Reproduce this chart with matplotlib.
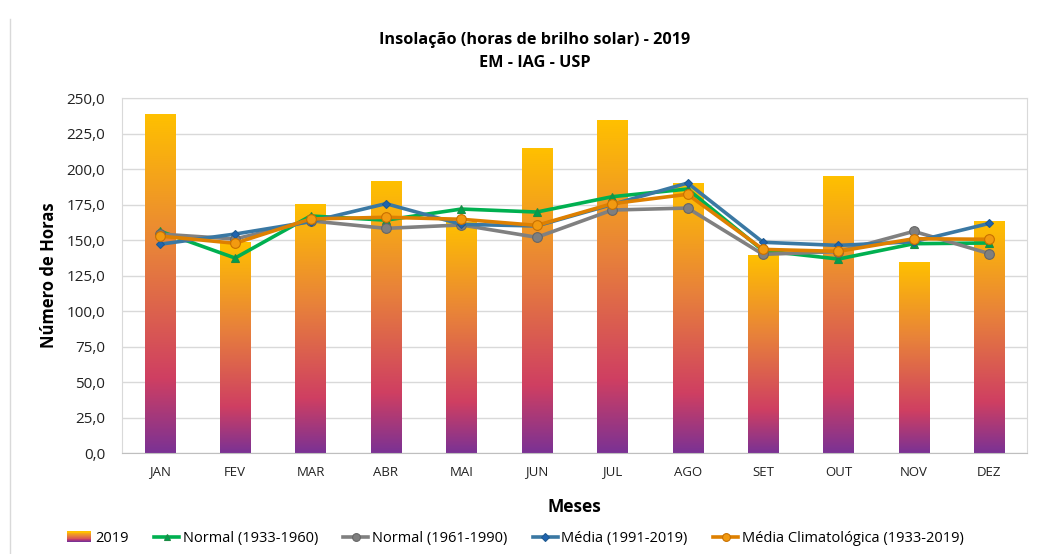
import matplotlib
matplotlib.use("Agg")
import matplotlib.pyplot as plt
import numpy as np
from matplotlib.colors import LinearSegmentedColormap
from matplotlib.legend_handler import HandlerBase
from matplotlib.patches import Rectangle
from matplotlib.lines import Line2D

months = ["JAN", "FEV", "MAR", "ABR", "MAI", "JUN", "JUL", "AGO", "SET", "OUT", "NOV", "DEZ"]
ins_2019 = [238.7, 148.0, 175.3, 191.5, 162.0, 214.5, 234.5, 190.0, 139.2, 194.4, 134.0, 162.7]
normal_1933_1960 = [156.3, 137.3, 166.9, 164.0, 171.8, 169.7, 180.5, 185.9, 142.5, 136.6, 147.4, 147.9]
normal_1961_1990 = [154.2, 150.7, 163.5, 158.2, 160.6, 151.9, 171.1, 172.5, 139.9, 141.8, 156.1, 140.4]
media_1991_2019 = [147.0, 154.2, 162.9, 175.6, 161.0, 159.9, 175.0, 190.1, 148.4, 146.2, 148.8, 161.7]
media_clim = [152.8, 147.7, 164.8, 166.0, 164.6, 160.3, 175.6, 182.2, 143.4, 142.0, 150.9, 150.5]
yticks = [0, 25, 50, 75, 100, 125, 150, 175, 200, 225, 250]

FONT = ["Open Sans", "DejaVu Sans"]
plt.rcParams["font.family"] = FONT

grad_cmap = LinearSegmentedColormap.from_list(
    "g", [(0.0, "#7B3294"), (0.22, "#CF3F62"), (0.6, "#E8823A"), (1.0, "#FFC000")])

fig = plt.figure(figsize=(10.38, 5.54), dpi=100)
ax = fig.add_axes([0.1175, 0.1823, 0.8719, 0.6408])

x = np.arange(len(months))
w = 0.4
grad = np.linspace(0, 1, 256).reshape(-1, 1)
bars = ax.bar(x, ins_2019, width=w, color="none", edgecolor="none", zorder=2)
for b in bars:
    bx, by = b.get_x(), b.get_y()
    bw, bh = b.get_width(), b.get_height()
    ax.imshow(grad, cmap=grad_cmap, origin="lower", aspect="auto",
              extent=[bx, bx + bw, by, by + bh], zorder=2, interpolation="bilinear")

series = [
    (normal_1933_1960, "Normal (1933-1960)", "#00B050", "^", "#00A050", "#1E8C45", 6),
    (normal_1961_1990, "Normal (1961-1990)", "#808080", "o", "#7F7F7F", "#666666", 7),
    (media_1991_2019, "Média (1991-2019)", "#3A78A3", "D", "#1F64B0", "#1F5A90", 4.5),
    (media_clim, "Média Climatológica (1933-2019)", "#DE8000", "o", "#F29A10", "#C87000", 7),
]
handles = []
for vals, lab, col, mk, mfc, mec, ms in series:
    ln, = ax.plot(x, vals, color=col, lw=2.6, marker=mk, ms=ms, mfc=mfc, mec=mec,
                  mew=0.8, zorder=3, label=lab)
    handles.append(ln)

ax.set_xlim(-0.5, 11.5)
ax.set_ylim(0, 250)
ax.set_yticks(yticks)
ax.set_yticklabels([f"{v:.1f}".replace(".", ",") for v in yticks], fontsize=11, color="#222222")
ax.set_xticks(x)
ax.set_xticklabels(months, fontsize=9.5, color="#222222")
ax.tick_params(axis="both", length=0)
ax.tick_params(axis="y", pad=12)
ax.tick_params(axis="x", pad=9)
ax.grid(axis="y", color="#D9D9D9", lw=1, zorder=0)
ax.set_axisbelow(True)
for s in ["top", "right", "left"]:
    ax.spines[s].set_color("#D9D9D9")
ax.spines["bottom"].set_color("#BFBFBF")

ax.set_xlabel("Meses", fontsize=12.5, fontweight="bold", labelpad=14)
ax.set_ylabel("Número de Horas", fontsize=12, fontweight="bold", labelpad=6)

fig.text(0.515, 0.927, "Insolação (horas de brilho solar) - 2019", ha="center", va="center",
         fontsize=11.7, fontweight="bold")
fig.text(0.515, 0.887, "EM - IAG - USP", ha="center", va="center",
         fontsize=11.7, fontweight="bold")

# left border of chart area
fig.add_artist(Line2D([0.0096, 0.0096], [0.0, 0.965], color="#D9D9D9", lw=1))


class GradHandler(HandlerBase):
    def create_artists(self, legend, orig, xd, yd, width, height, fontsize, trans):
        arts = []
        n = 12
        for i in range(n):
            c = grad_cmap(i / (n - 1))
            r = Rectangle((xd, yd + height * i / n), width, height / n + 0.3,
                          facecolor=c, edgecolor="none", transform=trans)
            arts.append(r)
        return arts


bar_proxy = Rectangle((0, 0), 1, 1)
leg = fig.legend([bar_proxy] + handles, ["2019"] + [h.get_label() for h in handles],
                 handler_map={Rectangle: GradHandler()}, loc="center",
                 bbox_to_anchor=(0.4962, 0.028), ncol=5, frameon=False,
                 prop={"family": FONT, "size": 10.5}, handlelength=1.7,
                 handletextpad=0.25, columnspacing=1.75, markerscale=0.8)

fig.savefig("out.png", dpi=100)
